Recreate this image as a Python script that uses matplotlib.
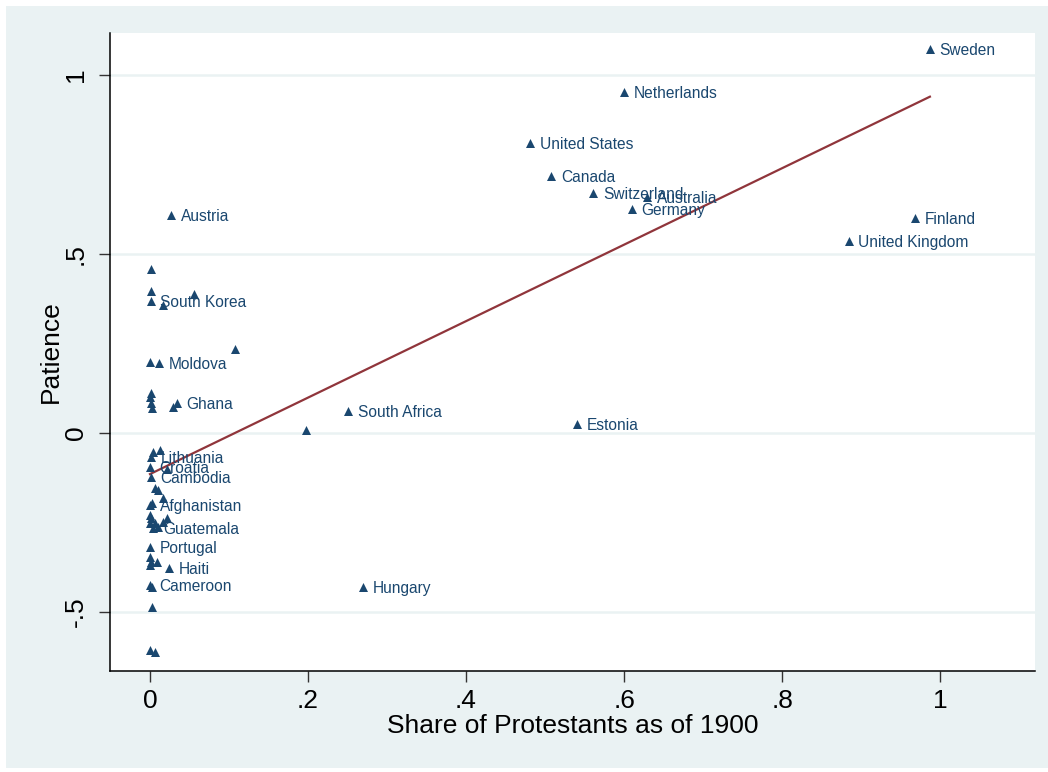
import matplotlib
matplotlib.use("Agg")
import matplotlib.pyplot as plt
from matplotlib.patches import Rectangle
import numpy as np

plt.rcParams['font.family'] = ['Liberation Sans', 'DejaVu Sans']

# share of Protestants in 1900, patience, country label ("" = unlabelled)
countries = [
    "Sweden", "Netherlands", "United States", "Canada", "Switzerland",
    "Australia", "Germany", "Finland", "United Kingdom", "Austria",
    "South Africa", "Estonia", "Hungary", "",
    "South Korea", "", "", "", "", "", "", "Moldova",
    "Ghana", "", "", "", "", "",
    "Lithuania", "Croatia", "Cambodia", "", "", "",
    "", "", "", "Afghanistan", "", "", "", "", "", "", "", "Guatemala", "",
    "Portugal", "", "", "", "", "Haiti", "Cameroon", "", "", "", "",
]
protestant_share = [
    0.987, 0.600, 0.481, 0.508, 0.561,
    0.629, 0.610, 0.968, 0.884, 0.027,
    0.251, 0.541, 0.270, 0.197,
    0.001, 0.017, 0.056, 0.108, 0.001, 0.001, 0.000, 0.011,
    0.034, 0.029, 0.001, 0.000, 0.001, 0.002,
    0.001, 0.000, 0.001, 0.004, 0.013, 0.021,
    0.006, 0.010, 0.016, 0.000, 0.003, 0.000, 0.001, 0.000, 0.006, 0.022, 0.016, 0.004, 0.010,
    0.000, 0.000, 0.001, 0.000, 0.009, 0.024, 0.000, 0.002, 0.002, 0.000, 0.006,
]
patience = [
    1.073, 0.953, 0.810, 0.718, 0.670,
    0.659, 0.626, 0.601, 0.536, 0.609,
    0.061, 0.025, -0.430, 0.008,
    0.369, 0.358, 0.388, 0.235, 0.458, 0.397, 0.198, 0.195,
    0.084, 0.073, 0.112, 0.101, 0.084, 0.070,
    -0.067, -0.095, -0.123, -0.053, -0.047, -0.100,
    -0.154, -0.159, -0.182, -0.201, -0.196, -0.229, -0.237, -0.251, -0.251, -0.237, -0.249, -0.265, -0.263,
    -0.318, -0.346, -0.360, -0.369, -0.360, -0.377, -0.425, -0.430, -0.486, -0.606, -0.612,
]

# linear fit
fit_intercept = -0.115
fit_slope = 1.068

x_ticks = [0, 0.2, 0.4, 0.6, 0.8, 1]
x_tick_labels = ["0", ".2", ".4", ".6", ".8", "1"]
y_ticks = [-0.5, 0, 0.5, 1]
y_tick_labels = ["-.5", "0", ".5", "1"]

navy = "#1a476f"
maroon = "#90353b"
bg = "#eaf2f3"

fig = plt.figure(figsize=(10.48, 7.72), dpi=100)
fig.patch.set_facecolor("white")
fig.patches.append(Rectangle((6 / 1048, 4 / 772), 1, 1 - 10 / 772,
                             transform=fig.transFigure, facecolor=bg,
                             edgecolor="none", zorder=-10))

ax = fig.add_axes([110 / 1048, 1 - 671 / 772, 925 / 1048, 638 / 772])
ax.set_facecolor("white")

for yt in y_ticks:
    ax.axhline(yt, color=bg, lw=1.8, zorder=0)

ax.scatter(protestant_share, patience, marker="^", s=42, color=navy,
           linewidths=0, zorder=3)
for xi, yi, name in zip(protestant_share, patience, countries):
    if name:
        ax.annotate(name, (xi, yi), xytext=(7, -1), textcoords="offset points",
                    ha="left", va="center", fontsize=11.2, color=navy, zorder=4)

xs = np.array([min(protestant_share), max(protestant_share)])
ax.plot(xs, fit_intercept + fit_slope * xs, color=maroon, lw=1.6, zorder=2)

ax.set_xlim(-0.0506, 1.12)
ax.set_ylim(-0.665, 1.117)
ax.set_xticks(x_ticks)
ax.set_xticklabels(x_tick_labels)
ax.set_yticks(y_ticks)
ax.set_yticklabels(y_tick_labels, rotation=90, va="center")
ax.tick_params(axis="both", length=8, width=1, color="#333333",
               labelsize=19, pad=5)
ax.tick_params(axis="y", pad=8)

for side in ["top", "right"]:
    ax.spines[side].set_visible(False)
for side in ["left", "bottom"]:
    ax.spines[side].set_color("black")
    ax.spines[side].set_linewidth(1.1)

ax.set_xlabel("Share of Protestants as of 1900", fontsize=19, labelpad=1)
ax.set_ylabel("Patience", fontsize=19, labelpad=1)

fig.savefig("out.png", dpi=100, facecolor=fig.get_facecolor())
